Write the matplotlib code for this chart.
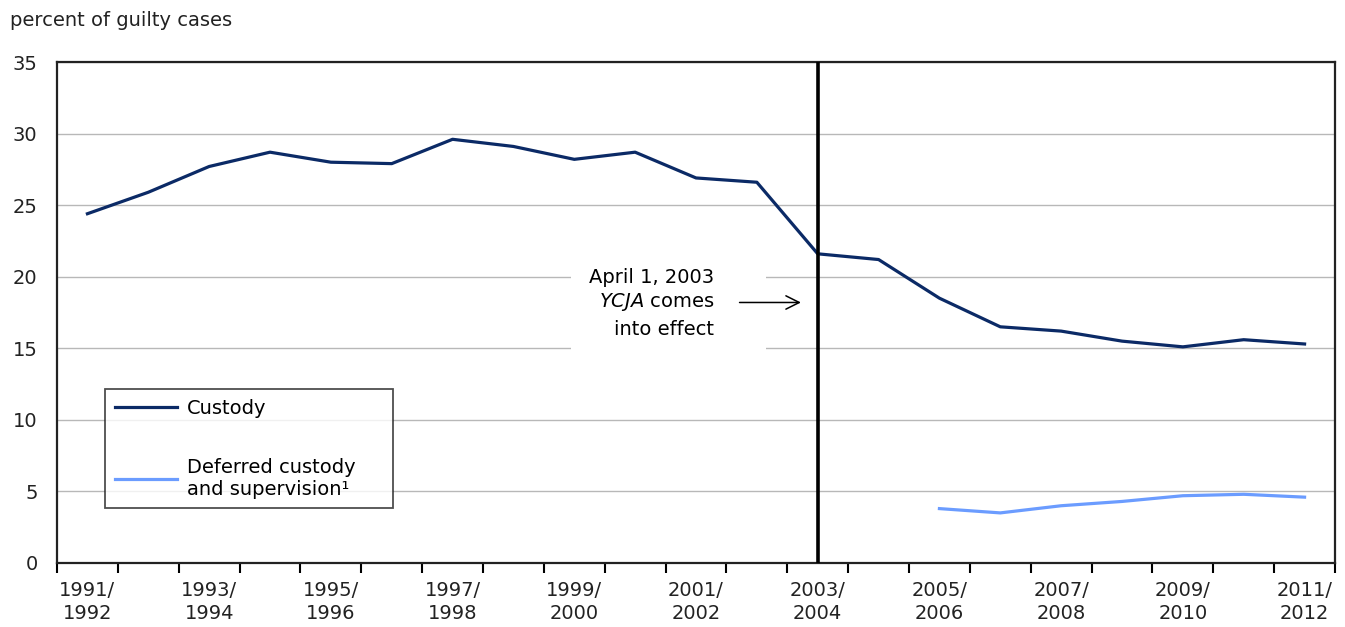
import matplotlib as mpl
mpl.use("Agg")
import matplotlib.pyplot as plt
import numpy as np
from matplotlib.patches import Rectangle

# Data
years = [
    "1991/\n1992", "1992/\n1993", "1993/\n1994", "1994/\n1995", "1995/\n1996",
    "1996/\n1997", "1997/\n1998", "1998/\n1999", "1999/\n2000", "2000/\n2001",
    "2001/\n2002", "2002/\n2003", "2003/\n2004", "2004/\n2005", "2005/\n2006",
    "2006/\n2007", "2007/\n2008", "2008/\n2009", "2009/\n2010", "2010/\n2011",
    "2011/\n2012",
]
custody = [24.4, 25.9, 27.7, 28.7, 28.0, 27.9, 29.6, 29.1, 28.2, 28.7, 26.9,
           26.6, 21.6, 21.2, 18.5, 16.5, 16.2, 15.5, 15.1, 15.6, 15.3]
deferred = [np.nan] * 14 + [3.8, 3.5, 4.0, 4.3, 4.7, 4.8, 4.6]
ycja_index = 12  # 2003/2004

FS = 14
plt.rcParams["font.family"] = ["DejaVu Sans"]
plt.rcParams["font.size"] = FS
plt.rcParams["mathtext.fontset"] = "dejavusans"

fig = plt.figure(figsize=(13.45, 6.27), dpi=100)
ax = fig.add_axes([57 / 1345, 1 - 563 / 627, (1335 - 57) / 1345, (563 - 62) / 627])

x = np.arange(len(years))
ax.plot(x, custody, color="#0b2a66", lw=2.3, label="Custody", zorder=4)
ax.plot(x, deferred, color="#6b9cff", lw=2.3,
        label="Deferred custody\nand supervision\u00b9", zorder=4)

ax.set_xlim(-0.5, len(years) - 0.5)
ax.set_ylim(0, 35)
ax.set_yticks(np.arange(0, 36, 5))
ax.tick_params(axis="y", length=0, pad=14, labelsize=FS, colors="#222222")

ax.set_xticks(x[::2])
ax.set_xticklabels(years[::2], fontsize=FS, color="#222222", linespacing=1.25)
ax.set_xticks(np.arange(-0.5, len(years), 1), minor=True)
ax.tick_params(axis="x", which="major", length=0, pad=13)
ax.tick_params(axis="x", which="minor", length=7, width=1.5, direction="out")

ax.grid(axis="y", color="#b8b8b8", lw=1.0, zorder=0)
ax.set_axisbelow(True)
for s in ax.spines.values():
    s.set_linewidth(1.6)
    s.set_color("#222222")

# YCJA line and annotation
ax.axvline(ycja_index, color="black", lw=2.6, zorder=5)
ax.add_patch(Rectangle((7.95, 14.4), 3.2, 6.4, facecolor="white",
                       edgecolor="none", zorder=1))
tx = 10.3
ax.text(tx, 19.95, "April 1, 2003", ha="right", va="center", fontsize=FS, zorder=3)
ax.text(tx, 18.2, r"$\it{YCJA}$ comes", ha="right", va="center", fontsize=FS, zorder=3)
ax.text(tx, 16.3, "into effect", ha="right", va="center", fontsize=FS, zorder=3)
ax.annotate("", xy=(11.77, 18.2), xytext=(10.67, 18.2),
            arrowprops=dict(arrowstyle="->", color="black", lw=1.1,
                            mutation_scale=24), zorder=3)

leg = ax.legend(loc="upper left",
                bbox_to_anchor=(48 / 1278, (563 - 507) / 501, 288 / 1278, 118 / 501),
                mode="expand", frameon=True, fancybox=False, edgecolor="#222222",
                fontsize=FS, handlelength=3.2, handletextpad=0.5,
                labelspacing=2.05, borderpad=0.5, borderaxespad=0)
leg.get_frame().set_linewidth(1.3)
leg.set_zorder(6)

fig.text(10 / 1345, 1 - 20 / 627, "percent of guilty cases", fontsize=FS,
         color="#222222", va="center", ha="left")

fig.savefig("out.png", dpi=100)
